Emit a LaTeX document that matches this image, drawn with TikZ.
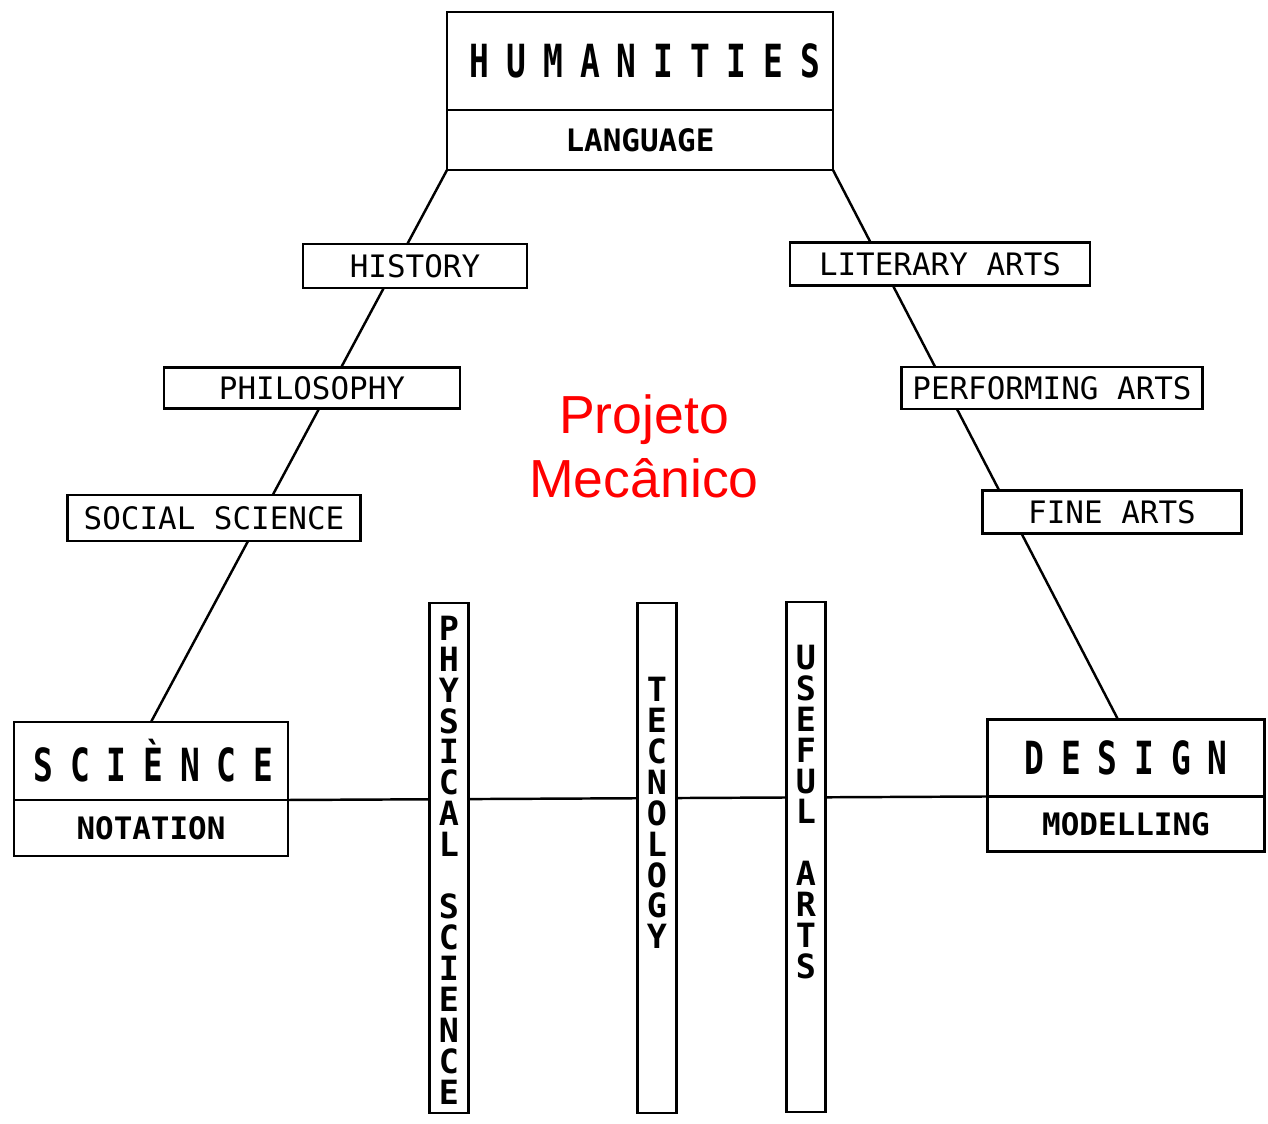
\documentclass[tikz,border=0pt]{standalone}
\usepackage{fontspec}
\setmainfont{Liberation Sans}
\newfontfamily\monofont{DejaVu Sans Mono}
\newfontfamily\widefont[FakeStretch=0.72,LetterSpace=37]{DejaVu Sans Mono}
\usetikzlibrary{positioning}
\pgfdeclarelayer{bg}
\pgfsetlayers{bg,main}
\tikzset{
  box/.style={draw, line width=1.4pt, fill=white, inner sep=0pt, outer sep=0pt,
    font=\monofont\fontsize{17.6}{20}\selectfont},
  headbox/.style={box, font=\widefont\bfseries\fontsize{26}{28}\selectfont},
  subbox/.style={box, font=\monofont\bfseries\fontsize{17.6}{20}\selectfont},
  bar/.style={draw, line width=1.4pt, fill=white, minimum width=0.78cm, minimum height=10.2cm},
  bartext/.style={align=center, font=\monofont\bfseries\fontsize{19}{17.6}\selectfont},
  link/.style={line width=1.4pt}
}
\begin{document}
\begin{tikzpicture}[x=0.02cm, y=-0.02cm]
\useasboundingbox (0,0) rectangle (1268,1124);
% top
\node[headbox, minimum width=7.72cm, minimum height=1.96cm] (hum) at (640,61) {\hspace{0.2cm}HUMANITIES};
\node[subbox, minimum width=7.72cm, minimum height=1.2cm, below=0pt of hum] (lang) {LANGUAGE};
% left side
\node[box, minimum width=4.48cm, minimum height=0.88cm] (hist) at (415,266) {HISTORY};
\node[box, minimum width=5.92cm, minimum height=0.82cm] (phil) at (312,388) {PHILOSOPHY};
\node[box, minimum width=5.86cm, minimum height=0.92cm] (soc) at (214,518) {SOCIAL SCIENCE};
\node[headbox, minimum width=5.48cm, minimum height=1.56cm] (sci) at (151,761) {\hspace{0.1cm}SCIÈNCE};
\node[subbox, minimum width=5.48cm, minimum height=1.12cm, below=0pt of sci] (nota) {NOTATION};
% right side
\node[box, minimum width=6cm, minimum height=0.86cm] (lit) at (940,264) {LITERARY ARTS};
\node[box, minimum width=6.02cm, minimum height=0.84cm] (perf) at (1052,388) {PERFORMING ARTS};
\node[box, minimum width=5.18cm, minimum height=0.86cm] (fine) at (1112,512) {FINE ARTS};
\node[headbox, minimum width=5.54cm, minimum height=1.54cm] (des) at (1126,758) {DESIGN};
\node[subbox, minimum width=5.54cm, minimum height=1.1cm, below=0pt of des] (mod) {MODELLING};
% bars
\node[bar] (phys) at (449,858) {};
\node[bar] (tec) at (657,858) {};
\node[bar] (use) at (806,857) {};
\node[bartext] (physT) at (449,860) {P\\H\\Y\\S\\I\\C\\A\\L\\[17.6pt]S\\C\\I\\E\\N\\C\\E};
\node[bartext] (tecT) at (657,813) {T\\E\\C\\N\\O\\L\\O\\G\\Y};
\node[bartext] (useT) at (806,812) {U\\S\\E\\F\\U\\L\\[17.6pt]A\\R\\T\\S};
\node[text=red, align=center, font=\fontsize{30.5}{36.4}\selectfont] (title) at (644,446) {Projeto\\Mecânico};
% lines
\begin{pgfonlayer}{bg}
\draw[link] (lang.south west) -- (sci.north);
\draw[link] (lang.south east) -- ([xshift=-0.16cm]des.north);
\draw[link] (nota.north east) -- (mod.north west);
\end{pgfonlayer}
\end{tikzpicture}
\end{document}
